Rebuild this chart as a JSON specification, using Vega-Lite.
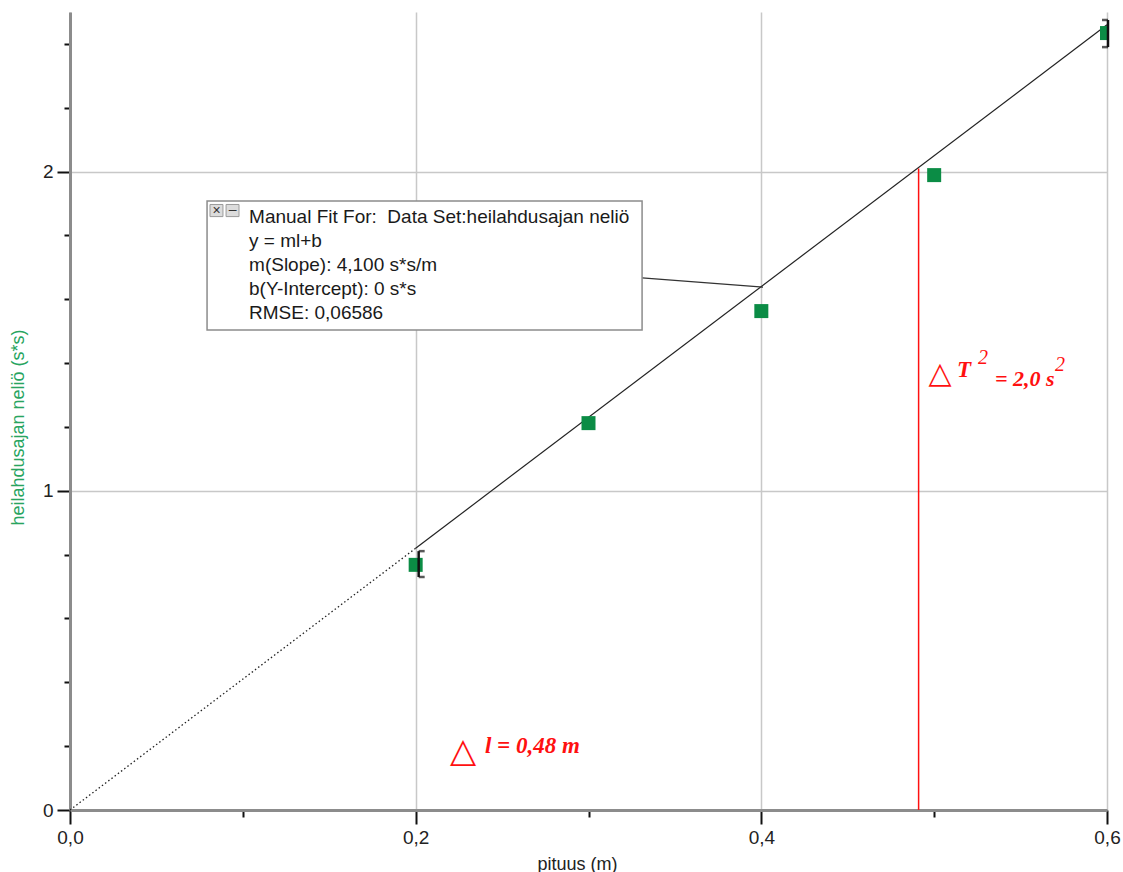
{
  "$schema": "https://vega.github.io/schema/vega-lite/v6.json",
  "width": 1037,
  "height": 798,
  "autosize": {"type": "none"},
  "padding": {"left": 70, "top": 12, "right": 16, "bottom": 62},
  "background": "white",
  "config": {
    "view": {"stroke": null},
    "axis": {"labelFlush": false, "labelOverlap": false}
  },
  "datasets": {
    "measured": [
      {"pituus": 0.2, "T2": 0.768, "lo": 0.730, "hi": 0.811},
      {"pituus": 0.3, "T2": 1.212},
      {"pituus": 0.4, "T2": 1.563},
      {"pituus": 0.5, "T2": 1.989},
      {"pituus": 0.6, "T2": 2.434, "lo": 2.390, "hi": 2.475}
    ],
    "fitDotted": [
      {"pituus": 0.0, "T2": 0.0},
      {"pituus": 0.2, "T2": 0.82}
    ],
    "fitSolid": [
      {"pituus": 0.2, "T2": 0.82},
      {"pituus": 0.6, "T2": 2.46}
    ],
    "one": [{}]
  },
  "layer": [
    {
      "data": {"name": "measured"},
      "mark": {"type": "point", "opacity": 0},
      "encoding": {
        "x": {
          "field": "pituus", "type": "quantitative",
          "scale": {"domain": [0, 0.6], "nice": false, "zero": false},
          "axis": {
            "title": "pituus (m)",
            "values": [0, 0.1, 0.2, 0.3, 0.4, 0.5, 0.6],
            "labelExpr": "abs(datum.value*5-round(datum.value*5))<0.001 ? replace(format(datum.value,'.1f'),'.',',') : ''",
            "tickSize": {"condition": {"test": "abs(datum.value*5-round(datum.value*5))<0.001", "value": 14}, "value": 7},
            "grid": true,
            "gridOpacity": {"condition": {"test": "abs(datum.value*5-round(datum.value*5))<0.001", "value": 1}, "value": 0},
            "gridColor": "#c8c8c8", "gridWidth": 1.5,
            "domainColor": "#8c8c8c", "domainWidth": 3,
            "tickColor": "#111111", "tickWidth": 2,
            "labelFont": "Liberation Sans", "labelFontSize": 19, "labelColor": "#222222", "labelPadding": 4,
            "titleFont": "Liberation Sans", "titleFontSize": 18, "titleFontWeight": "normal", "titleColor": "#222222",
            "titleX": 507, "titleY": 45, "titleBaseline": "top"
          }
        },
        "y": {
          "field": "T2", "type": "quantitative",
          "scale": {"domain": [0, 2.5], "nice": false, "zero": false},
          "axis": {
            "title": "heilahdusajan neliö (s*s)",
            "values": [0, 0.2, 0.4, 0.6, 0.8, 1, 1.2, 1.4, 1.6, 1.8, 2, 2.2, 2.4],
            "labelExpr": "abs(datum.value-round(datum.value))<0.001 ? format(datum.value,'d') : ''",
            "tickSize": {"condition": {"test": "abs(datum.value-round(datum.value))<0.001", "value": 13}, "value": 6},
            "grid": true,
            "gridOpacity": {"condition": {"test": "abs(datum.value-round(datum.value))<0.001", "value": 1}, "value": 0},
            "gridColor": "#c8c8c8", "gridWidth": 1.5,
            "domainColor": "#8c8c8c", "domainWidth": 3,
            "tickColor": "#111111", "tickWidth": 2,
            "labelFont": "Liberation Sans", "labelFontSize": 19, "labelColor": "#222222", "labelPadding": 4,
            "titleFont": "Liberation Sans", "titleFontSize": 18, "titleFontWeight": "normal", "titleColor": "#28a460",
            "titleAngle": 270, "titleX": -52, "titleY": 415, "titleBaseline": "middle", "titleAlign": "center"
          }
        }
      }
    },
    {
      "data": {"name": "fitDotted"},
      "mark": {"type": "line", "color": "#222222", "strokeWidth": 1.3, "strokeDash": [1.5, 2.5]},
      "encoding": {
        "x": {"field": "pituus", "type": "quantitative"},
        "y": {"field": "T2", "type": "quantitative"}
      }
    },
    {
      "data": {"name": "fitSolid"},
      "mark": {"type": "line", "color": "#222222", "strokeWidth": 1.2},
      "encoding": {
        "x": {"field": "pituus", "type": "quantitative"},
        "y": {"field": "T2", "type": "quantitative"}
      }
    },
    {
      "data": {"name": "one"},
      "mark": {"type": "rule", "color": "#ff1010", "strokeWidth": 1.5},
      "encoding": {
        "x": {"datum": 0.491, "type": "quantitative"},
        "y": {"datum": 0, "type": "quantitative"},
        "y2": {"datum": 2.01}
      }
    },
    {
      "data": {"name": "one"},
      "mark": {"type": "rule", "color": "#333333", "strokeWidth": 1.2},
      "encoding": {
        "x": {"datum": 0.331, "type": "quantitative"},
        "x2": {"datum": 0.401},
        "y": {"datum": 1.667, "type": "quantitative"},
        "y2": {"datum": 1.638}
      }
    },
    {
      "data": {"name": "one"},
      "mark": {"type": "rect", "fill": "white", "stroke": "#8c8c8c", "strokeWidth": 1.5},
      "encoding": {
        "x": {"datum": 0.0793, "type": "quantitative"},
        "x2": {"datum": 0.331},
        "y": {"datum": 1.908, "type": "quantitative"},
        "y2": {"datum": 1.504}
      }
    },
    {
      "data": {"name": "one"},
      "mark": {"type": "rect", "fill": "#dcdcdc", "stroke": "#9a9a9a", "strokeWidth": 1},
      "encoding": {
        "x": {"datum": 0.081, "type": "quantitative"},
        "x2": {"datum": 0.0885},
        "y": {"datum": 1.897, "type": "quantitative"},
        "y2": {"datum": 1.859}
      }
    },
    {
      "data": {"name": "one"},
      "mark": {"type": "rect", "fill": "#dcdcdc", "stroke": "#9a9a9a", "strokeWidth": 1},
      "encoding": {
        "x": {"datum": 0.0903, "type": "quantitative"},
        "x2": {"datum": 0.0978},
        "y": {"datum": 1.897, "type": "quantitative"},
        "y2": {"datum": 1.859}
      }
    },
    {
      "data": {"name": "one"},
      "mark": {"type": "text", "font": "Liberation Sans", "fontSize": 14, "color": "#333333", "align": "center", "baseline": "middle"},
      "encoding": {
        "x": {"datum": 0.08475, "type": "quantitative"},
        "y": {"datum": 1.878, "type": "quantitative"},
        "text": {"value": "×"}
      }
    },
    {
      "data": {"name": "one"},
      "mark": {"type": "text", "font": "Liberation Sans", "fontSize": 14, "color": "#333333", "align": "center", "baseline": "middle"},
      "encoding": {
        "x": {"datum": 0.09405, "type": "quantitative"},
        "y": {"datum": 1.880, "type": "quantitative"},
        "text": {"value": "–"}
      }
    },
    {
      "data": {"name": "one"},
      "mark": {"type": "text", "font": "Liberation Sans", "fontSize": 19, "color": "#1a1a1a", "align": "left", "baseline": "alphabetic", "lineHeight": 24},
      "encoding": {
        "x": {"datum": 0.1036, "type": "quantitative"},
        "y": {"datum": 1.839, "type": "quantitative"},
        "text": {"value": ["Manual Fit For:\u00a0 Data Set:heilahdusajan neliö", "y = ml+b", "m(Slope): 4,100 s*s/m", "b(Y-Intercept): 0 s*s", "RMSE: 0,06586"]}
      }
    },
    {
      "data": {"name": "measured"},
      "mark": {"type": "point", "shape": "square", "filled": true, "size": 196, "color": "#0b8c45", "opacity": 1, "clip": true},
      "encoding": {
        "x": {"field": "pituus", "type": "quantitative"},
        "y": {"field": "T2", "type": "quantitative"}
      }
    },
    {
      "data": {"name": "measured"},
      "transform": [{"filter": "datum.pituus < 0.25"}],
      "layer": [
        {
          "mark": {"type": "rule", "color": "#111111", "strokeWidth": 2.5, "xOffset": 3},
          "encoding": {
            "x": {"field": "pituus", "type": "quantitative"},
            "y": {"field": "lo", "type": "quantitative"},
            "y2": {"field": "hi"}
          }
        },
        {
          "mark": {"type": "tick", "orient": "horizontal", "color": "#111111", "thickness": 2.5, "size": 6, "xOffset": 6},
          "encoding": {
            "x": {"field": "pituus", "type": "quantitative"},
            "y": {"field": "lo", "type": "quantitative"}
          }
        },
        {
          "mark": {"type": "tick", "orient": "horizontal", "color": "#111111", "thickness": 2.5, "size": 6, "xOffset": 6},
          "encoding": {
            "x": {"field": "pituus", "type": "quantitative"},
            "y": {"field": "hi", "type": "quantitative"}
          }
        }
      ]
    },
    {
      "data": {"name": "measured"},
      "transform": [{"filter": "datum.pituus > 0.55"}],
      "layer": [
        {
          "mark": {"type": "rule", "color": "#111111", "strokeWidth": 2.5, "xOffset": 1},
          "encoding": {
            "x": {"field": "pituus", "type": "quantitative"},
            "y": {"field": "lo", "type": "quantitative"},
            "y2": {"field": "hi"}
          }
        },
        {
          "mark": {"type": "tick", "orient": "horizontal", "color": "#111111", "thickness": 2.5, "size": 6, "xOffset": -2},
          "encoding": {
            "x": {"field": "pituus", "type": "quantitative"},
            "y": {"field": "lo", "type": "quantitative"}
          }
        },
        {
          "mark": {"type": "tick", "orient": "horizontal", "color": "#111111", "thickness": 2.5, "size": 6, "xOffset": -2},
          "encoding": {
            "x": {"field": "pituus", "type": "quantitative"},
            "y": {"field": "hi", "type": "quantitative"}
          }
        }
      ]
    },
    {
      "data": {"name": "one"},
      "mark": {"type": "text", "font": "DejaVu Sans", "fontSize": 34, "color": "#ff1010", "align": "center", "baseline": "middle"},
      "encoding": {
        "x": {"datum": 0.2274, "type": "quantitative"},
        "y": {"datum": 0.1817, "type": "quantitative"},
        "text": {"value": "△"}
      }
    },
    {
      "data": {"name": "one"},
      "mark": {"type": "text", "font": "Liberation Serif", "fontSize": 23, "fontStyle": "italic", "fontWeight": "bold", "color": "#ff1010", "align": "left", "baseline": "alphabetic"},
      "encoding": {
        "x": {"datum": 0.2401, "type": "quantitative"},
        "y": {"datum": 0.1786, "type": "quantitative"},
        "text": {"value": "l = 0,48 m"}
      }
    },
    {
      "data": {"name": "one"},
      "mark": {"type": "text", "font": "DejaVu Sans", "fontSize": 30, "color": "#ff1010", "align": "center", "baseline": "middle"},
      "encoding": {
        "x": {"datum": 0.5034, "type": "quantitative"},
        "y": {"datum": 1.366, "type": "quantitative"},
        "text": {"value": "△"}
      }
    },
    {
      "data": {"name": "one"},
      "mark": {"type": "text", "font": "Liberation Serif", "fontSize": 23, "fontStyle": "italic", "fontWeight": "bold", "color": "#ff1010", "align": "left", "baseline": "alphabetic"},
      "encoding": {
        "x": {"datum": 0.5132, "type": "quantitative"},
        "y": {"datum": 1.3565, "type": "quantitative"},
        "text": {"value": "T"}
      }
    },
    {
      "data": {"name": "one"},
      "mark": {"type": "text", "font": "Liberation Serif", "fontSize": 20, "fontStyle": "italic", "color": "#ff1010", "align": "left", "baseline": "middle"},
      "encoding": {
        "x": {"datum": 0.5254, "type": "quantitative"},
        "y": {"datum": 1.416, "type": "quantitative"},
        "text": {"value": "2"}
      }
    },
    {
      "data": {"name": "one"},
      "mark": {"type": "text", "font": "Liberation Serif", "fontSize": 22, "fontStyle": "italic", "fontWeight": "bold", "color": "#ff1010", "align": "left", "baseline": "alphabetic"},
      "encoding": {
        "x": {"datum": 0.5352, "type": "quantitative"},
        "y": {"datum": 1.3283, "type": "quantitative"},
        "text": {"value": "= 2,0 s"}
      }
    },
    {
      "data": {"name": "one"},
      "mark": {"type": "text", "font": "Liberation Serif", "fontSize": 20, "fontStyle": "italic", "color": "#ff1010", "align": "left", "baseline": "middle"},
      "encoding": {
        "x": {"datum": 0.5699, "type": "quantitative"},
        "y": {"datum": 1.394, "type": "quantitative"},
        "text": {"value": "2"}
      }
    }
  ]
}
